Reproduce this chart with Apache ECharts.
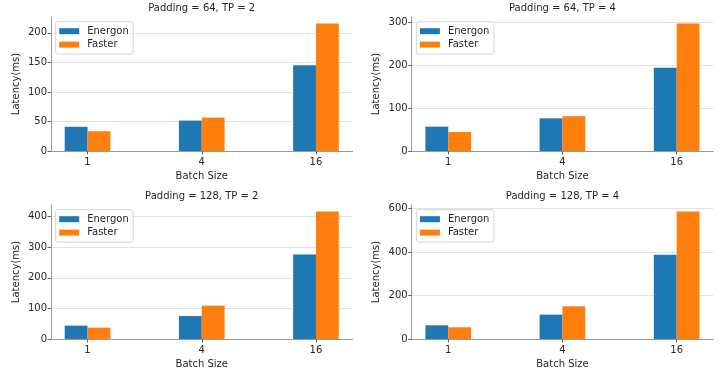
<!DOCTYPE html>
<html>
<head>
<meta charset="utf-8">
<script src="https://cdn.jsdelivr.net/npm/echarts@6/dist/echarts.min.js"></script>
<style>
html, body { margin: 0; padding: 0; background: #fff; }
#main { width: 720px; height: 377px; }
</style>
</head>
<body>
<div id="main"></div>
<script>
// batch sizes on the x axis
var categories = ['1', '4', '16'];
var seriesNames = ['Energon', 'Faster'];

// latency (ms)
var p64tp2Energon = [41, 51.5, 145];
var p64tp2Faster = [33.5, 56.5, 216];
var p64tp4Energon = [56.7, 76, 193.5];
var p64tp4Faster = [44.3, 81, 297];
var p128tp2Energon = [43.7, 75, 276];
var p128tp2Faster = [37, 109, 417];
var p128tp4Energon = [63, 112, 387];
var p128tp4Faster = [54, 150.5, 587];

var panelTitles = ['Padding = 64, TP = 2', 'Padding = 64, TP = 4', 'Padding = 128, TP = 2', 'Padding = 128, TP = 4'];
var yIntervals = [50, 100, 100, 200];

var font = 'DejaVu Sans';
var textColor = '#262626';
var colors = ['#1f77b4', '#ff7f0e'];

var panels = [
    { energon: p64tp2Energon, faster: p64tp2Faster, left: 51, top: 17 },
    { energon: p64tp4Energon, faster: p64tp4Faster, left: 411.7, top: 17 },
    { energon: p128tp2Energon, faster: p128tp2Faster, left: 51, top: 205 },
    { energon: p128tp4Energon, faster: p128tp4Faster, left: 411.7, top: 205 }
];
var gridWidth = 301.5;
var gridHeight = 134;

var option = {
    animation: false,
    backgroundColor: '#fff',
    textStyle: { fontFamily: font },
    color: colors,
    title: [],
    legend: [],
    grid: [],
    xAxis: [],
    yAxis: [],
    series: []
};

function toPoints(values) {
    return values.map(function (v, i) { return [i, v]; });
}

panels.forEach(function (p, k) {
    // matplotlib style: 5% headroom above the tallest bar
    var yMax = Math.max.apply(null, p.energon.concat(p.faster)) * 1.05;

    option.title.push({
        text: panelTitles[k],
        left: p.left + gridWidth / 2,
        top: p.top - 13.5,
        textAlign: 'center',
        padding: 0,
        textStyle: { fontFamily: font, fontSize: 10, fontWeight: 'normal', color: textColor }
    });

    option.legend.push({
        data: seriesNames,
        orient: 'vertical',
        left: p.left + 4.7,
        top: p.top + 4.7,
        padding: [3.5, 4.5, 3.5, 3.5],
        itemWidth: 20,
        itemHeight: 6,
        itemGap: 1.4,
        icon: 'rect',
        borderColor: '#d6d6d6',
        borderWidth: 1,
        borderRadius: 2,
        backgroundColor: 'rgba(255,255,255,0.8)',
        textStyle: { fontFamily: font, fontSize: 10, color: textColor, lineHeight: 12, padding: [0, 0, 0, 3] }
    });

    option.grid.push({
        left: p.left,
        top: p.top,
        width: gridWidth,
        height: gridHeight
    });

    option.xAxis.push({
        type: 'value',
        gridIndex: k,
        min: -0.32,
        max: 2.32,
        name: 'Batch Size',
        nameLocation: 'middle',
        nameGap: 20,
        nameTextStyle: { fontFamily: font, fontSize: 10, color: textColor },
        axisLine: { show: true, onZero: false, lineStyle: { color: '#999', width: 1 } },
        axisTick: { show: true, length: 3.5, customValues: [0, 1, 2], lineStyle: { color: '#666' } },
        axisLabel: {
            customValues: [0, 1, 2],
            margin: 6,
            fontFamily: font,
            fontSize: 10,
            color: textColor,
            formatter: function (v) { return categories[Math.round(v)]; }
        },
        splitLine: { show: false }
    });

    option.yAxis.push({
        type: 'value',
        gridIndex: k,
        min: 0,
        max: yMax,
        interval: yIntervals[k],
        name: 'Latency(ms)',
        nameLocation: 'middle',
        nameGap: 30,
        nameTextStyle: { fontFamily: font, fontSize: 10, color: textColor },
        axisLine: { show: true, onZero: false, lineStyle: { color: '#999', width: 1 } },
        axisTick: { show: true, length: 3.5, lineStyle: { color: '#666' } },
        axisLabel: { margin: 4, fontFamily: font, fontSize: 10, color: textColor, showMaxLabel: false },
        splitLine: { show: true, showMaxLine: false, lineStyle: { color: '#e3e3e3', width: 1 } }
    });

    option.series.push({
        name: 'Energon',
        type: 'bar',
        xAxisIndex: k,
        yAxisIndex: k,
        barWidth: '20%',
        barGap: '0%',
        data: toPoints(p.energon)
    });
    option.series.push({
        name: 'Faster',
        type: 'bar',
        xAxisIndex: k,
        yAxisIndex: k,
        barWidth: '20%',
        barGap: '0%',
        data: toPoints(p.faster)
    });
});

var chart = echarts.init(document.getElementById('main'));
chart.setOption(option);
</script>
</body>
</html>
